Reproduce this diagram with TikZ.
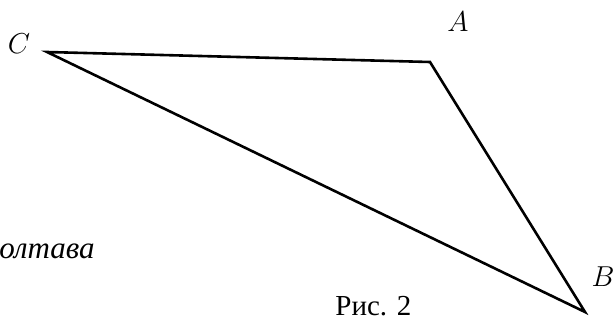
\documentclass[tikz,border=0pt]{standalone}
\usepackage{amsmath}
\usepackage{fontspec}
\setmainfont{Liberation Serif}
\usetikzlibrary{positioning}

\begin{document}
\begin{tikzpicture}[
		x=0.5pt, y=-0.5pt,
		% vertex letters
		vertex label/.style={font=\fontsize{14.5}{16}\selectfont, inner sep=0pt},
		% plain text
		caption/.style={font=\fontsize{14.5}{17}\selectfont, inner sep=0pt},
		side/.style={line width=1.3pt, line join=miter}
		]
		
		\useasboundingbox (0,0) rectangle (615,322);
		
		% === VERTICES ===
		\coordinate (vC) at (47,52);
		\coordinate (vA) at (430,62);
		\coordinate (vB) at (585,312);
		
		% === LABELS ===
		\node[vertex label] (labC) at (19,44) {$C$};
		\node[vertex label] (labA) at (458,22) {$A$};
		\node[vertex label] (labB) at (603,277) {$B$};
		
		% === TRIANGLE ===
		\draw[side] (vC) -- (vA) -- (vB) -- cycle;
		
		% === TEXT ===
		\node[caption, anchor=base west, font=\fontsize{15.5}{17}\selectfont] (town) at (-1,258) {\itshape олтава};
		\node[caption, anchor=base west] (fig) at (335,315) {Рис. 2};
		
	\end{tikzpicture}
\end{document}
